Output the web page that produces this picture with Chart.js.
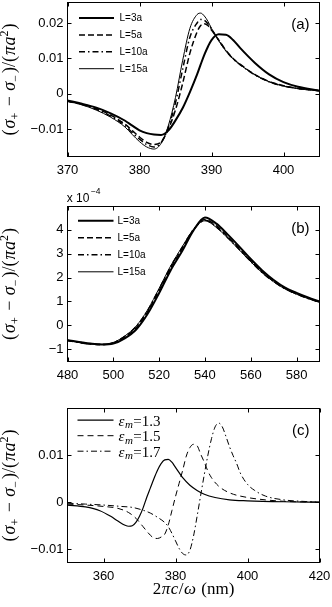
<!DOCTYPE html>
<html><head><meta charset="utf-8">
<script src="https://cdn.jsdelivr.net/npm/chart.js@4/dist/chart.umd.min.js"></script>
<style>
html,body{margin:0;padding:0;background:#fff;width:332px;height:607px;overflow:hidden}
canvas{position:absolute;left:0}
</style></head><body>
<canvas id="ca" width="332" height="185" style="top:0px;width:332px;height:185px"></canvas>
<canvas id="cb" width="332" height="200" style="top:185px;width:332px;height:200px"></canvas>
<canvas id="cc" width="332" height="222" style="top:385px;width:332px;height:222px"></canvas>
<script>
// ---------- Panel (a): wavelength (nm) and (σ+ − σ−)/(πa²) for several L ----------
const xA = [370,372,374,376,378,379,380,381,382,383,384,385,386,387,388,388.5,389,389.5,390,391,392,393,394,396,398,400,402,405];
const aL3  = [-0.0019,-0.0028,-0.0039,-0.0055,-0.0076,-0.0090,-0.0103,-0.0111,-0.0115,-0.0116,-0.0104,-0.0075,-0.0040,0.0005,0.0055,0.0083,0.0110,0.0133,0.0152,0.0168,0.0167,0.0152,0.0129,0.0088,0.0055,0.0033,0.0020,0.0009];
const aL5  = [-0.0020,-0.0029,-0.0042,-0.0060,-0.0086,-0.0104,-0.0122,-0.0137,-0.0143,-0.0136,-0.0100,-0.0045,0.0030,0.0115,0.0175,0.0193,0.0198,0.0193,0.0180,0.0152,0.0123,0.0100,0.0083,0.0055,0.0035,0.0023,0.0015,0.0009];
const aL10 = [-0.0021,-0.0030,-0.0044,-0.0063,-0.0090,-0.0110,-0.0128,-0.0143,-0.0150,-0.0138,-0.0095,-0.0025,0.0070,0.0160,0.0200,0.0210,0.0208,0.0198,0.0183,0.0152,0.0122,0.0099,0.0082,0.0054,0.0034,0.0022,0.0015,0.0009];
const aL15 = [-0.0021,-0.0031,-0.0046,-0.0066,-0.0094,-0.0115,-0.0135,-0.0150,-0.0156,-0.0140,-0.0090,-0.0010,0.0095,0.0185,0.0224,0.0228,0.0220,0.0205,0.0185,0.0150,0.0121,0.0099,0.0082,0.0054,0.0034,0.0022,0.0015,0.0009];
const ticksAX = [370,380,390,400];
const labelsAX = ['370','380','390','400'];
const ticksAY = [-0.01,0,0.01,0.02];
const labelsAY = ['\u22120.01','0','0.01','0.02'];

// ---------- Panel (b): values in units of 1e-4 ----------
const xB = [480,485,490,495,500,505,510,515,520,525,530,535,540,545,550,555,560,565,570,575,580,585,590];
const bL3  = [-0.63,-0.70,-0.77,-0.81,-0.77,-0.55,-0.18,0.48,1.35,2.30,3.10,3.98,4.52,4.26,3.80,3.30,2.78,2.30,1.90,1.58,1.36,1.17,1.00];
const bL5  = [-0.63,-0.71,-0.78,-0.81,-0.75,-0.50,-0.10,0.57,1.46,2.40,3.20,4.00,4.43,4.17,3.71,3.22,2.71,2.24,1.86,1.55,1.32,1.14,0.98];
const bL10 = [-0.64,-0.72,-0.79,-0.81,-0.73,-0.47,-0.05,0.62,1.52,2.45,3.25,4.01,4.40,4.12,3.67,3.18,2.68,2.21,1.83,1.53,1.31,1.12,0.97];
const bL15 = [-0.64,-0.72,-0.79,-0.80,-0.72,-0.45,-0.03,0.65,1.55,2.48,3.28,4.02,4.38,4.10,3.65,3.16,2.66,2.20,1.82,1.52,1.30,1.12,0.96];
const ticksBX = [480,500,520,540,560,580];
const labelsBX = ['480','500','520','540','560','580'];
const ticksBY = [-1,0,1,2,3,4];
const labelsBY = ['\u22121','0','1','2','3','4'];

// ---------- Panel (c): different ε_m ----------
const xC13 = [350,355,359,362,364,366,367,368,369,370,371,372,373,374,375,376,377,378,379,380,381,382,384,386,388,391,395,400,410,420];
const yC13 = [-0.0006,-0.0010,-0.0018,-0.0030,-0.0040,-0.0049,-0.0051,-0.0050,-0.0043,-0.0030,-0.0012,0.0010,0.0030,0.0050,0.0068,0.0082,0.0090,0.0091,0.0085,0.0074,0.0063,0.0052,0.0036,0.0025,0.0017,0.0010,0.0005,0.0003,0.0001,0.0000];
const xC15 = [350,355,360,364,367,369,371,373,374,375,376,377,378,379,380,381,382,383,384,385,386,387,388,389,390,392,395,400,405,410,420];
const yC15 = [-0.0004,-0.0006,-0.0009,-0.0013,-0.0022,-0.0034,-0.0052,-0.0070,-0.0076,-0.0077,-0.0074,-0.0068,-0.0048,-0.0018,0.0012,0.0040,0.0068,0.0098,0.0116,0.0123,0.0120,0.0102,0.0085,0.0066,0.0052,0.0034,0.0020,0.0010,0.0005,0.0002,0.0000];
const xC17 = [350,355,360,365,368,371,373,375,377,378,379,380,381,382,383,384,385,386,387,388,389,390,391,392,393,394,395,396,397,398,400,402,405,410,415,420];
const yC17 = [-0.0002,-0.0004,-0.0006,-0.0009,-0.0011,-0.0017,-0.0023,-0.0032,-0.0043,-0.0052,-0.0066,-0.0082,-0.0098,-0.0109,-0.0112,-0.0102,-0.0072,-0.0030,0.0015,0.0059,0.0100,0.0135,0.0160,0.0168,0.0160,0.0140,0.0118,0.0099,0.0082,0.0062,0.0038,0.0025,0.0013,0.0005,0.0002,0.0000];
const ticksCX = [360,380,400,420];
const labelsCX = ['360','380','400','420'];
const ticksCY = [-0.01,0,0.01];
const labelsCY = ['\u22120.01','0','0.01'];

const legendA = ['L=3a','L=5a','L=10a','L=15a'];
const legendC = ['1.3','1.5','1.7'];

// ---------- helpers ----------
const SANS = '"Liberation Sans", Arial, Helvetica, sans-serif';
const SERIF = '"Liberation Serif", "Times New Roman", serif';
const pts = (xs, ys) => xs.map((x, i) => ({x, y: ys[i]}));

function drawRich(ctx, parts, x, y) {
  for (const p of parts) {
    ctx.font = p.f;
    ctx.fillText(p.t, x, y + (p.dy || 0));
    x += ctx.measureText(p.t).width + (p.sp || 0);
  }
  return x;
}
function richWidth(ctx, parts) {
  let w = 0;
  for (const p of parts) { ctx.font = p.f; w += ctx.measureText(p.t).width + (p.sp || 0); }
  return w;
}
const yTitleParts = [
  {t:'(', f:`18px ${SERIF}`, sp:1},
  {t:'\u03C3', f:`italic 18px ${SERIF}`},
  {t:'+', f:`12px ${SERIF}`, dy:3.5, sp:2},
  {t:' \u2212 ', f:`18px ${SERIF}`, sp:1},
  {t:'\u03C3', f:`italic 18px ${SERIF}`},
  {t:'\u2212', f:`12px ${SERIF}`, dy:3.5, sp:2},
  {t:')/(', f:`18px ${SERIF}`, sp:1},
  {t:'\u03C0', f:`italic 18px ${SERIF}`, sp:0.5},
  {t:'a', f:`italic 18px ${SERIF}`},
  {t:'2', f:`12px ${SERIF}`, dy:-7.5, sp:1},
  {t:')', f:`18px ${SERIF}`}
];
const xTitleParts = [
  {t:'2', f:`17px ${SERIF}`, sp:0.5},
  {t:'\u03C0', f:`italic 17px ${SERIF}`, sp:0.5},
  {t:'c', f:`italic 17px ${SERIF}`, sp:0.5},
  {t:'/', f:`17px ${SERIF}`, sp:0.5},
  {t:'\u03C9', f:`italic 17px ${SERIF}`, sp:1},
  {t:' (nm)', f:`17px ${SERIF}`}
];

const framePlugin = {
  id: 'frame',
  afterDraw(chart, args, o) {
    const ctx = chart.ctx, a = chart.chartArea, xs = chart.scales.x, ys = chart.scales.y;
    ctx.save();
    ctx.strokeStyle = '#000'; ctx.lineWidth = 1; ctx.setLineDash([]);
    ctx.strokeRect(a.left, a.top, a.right - a.left, a.bottom - a.top);
    const tl = 4;
    ctx.beginPath();
    for (const v of o.xt) {
      const p = Math.round(xs.getPixelForValue(v)) + 0.5;
      ctx.moveTo(p, a.bottom); ctx.lineTo(p, a.bottom - tl);
      ctx.moveTo(p, a.top); ctx.lineTo(p, a.top + tl);
    }
    for (const v of o.yt) {
      const p = Math.round(ys.getPixelForValue(v)) + 0.5;
      ctx.moveTo(a.left, p); ctx.lineTo(a.left + tl, p);
      ctx.moveTo(a.right, p); ctx.lineTo(a.right - tl, p);
    }
    ctx.stroke();
    // legend
    chart.data.datasets.forEach((ds, i) => {
      const y = a.top + o.lg.y0 + i * o.lg.dy;
      ctx.beginPath();
      ctx.lineWidth = ds.borderWidth;
      ctx.setLineDash(ds.borderDash || []);
      ctx.moveTo(a.left + o.lg.x0, y); ctx.lineTo(a.left + o.lg.x1, y);
      ctx.stroke();
      ctx.setLineDash([]);
      ctx.fillStyle = '#000';
      if (o.lg.rich) {
        ctx.textAlign = 'left'; ctx.textBaseline = 'alphabetic';
        drawRich(ctx, [
          {t:'\u03B5', f:`italic 15px ${SERIF}`, sp:0.5},
          {t:'m', f:`italic 11px ${SERIF}`, dy:2.5, sp:0.5},
          {t:'=' + ds.label, f:`15px ${SERIF}`}
        ], a.left + o.lg.tx, y + 5.5);
      } else {
        ctx.font = `10px ${SANS}`;
        ctx.textAlign = 'left'; ctx.textBaseline = 'middle';
        ctx.fillText(ds.label, a.left + o.lg.tx, y + 0.5);
      }
    });
    // panel label
    ctx.fillStyle = '#000';
    ctx.font = `15px ${SANS}`;
    ctx.textAlign = 'right'; ctx.textBaseline = 'alphabetic';
    ctx.fillText(o.panel, a.right - 10, a.top + o.panelY);
    // y title
    ctx.save();
    ctx.textAlign = 'left'; ctx.textBaseline = 'alphabetic';
    const w = richWidth(ctx, yTitleParts);
    ctx.translate(15, (a.top + a.bottom) / 2);
    ctx.rotate(-Math.PI / 2);
    drawRich(ctx, yTitleParts, -w / 2, 0);
    ctx.restore();
    // x title
    if (o.xtitle) {
      ctx.textAlign = 'left'; ctx.textBaseline = 'alphabetic';
      const wx = richWidth(ctx, xTitleParts);
      drawRich(ctx, xTitleParts, (a.left + a.right) / 2 - wx / 2, a.bottom + o.xtitle);
    }
    // exponent
    if (o.expo) {
      ctx.textAlign = 'left'; ctx.textBaseline = 'alphabetic';
      ctx.font = `12px ${SANS}`;
      ctx.fillText('x 10', 66.7, a.top - 5);
      const wx = ctx.measureText('x 10').width;
      ctx.font = `8.5px ${SANS}`;
      ctx.fillText('\u22124', 66.7 + wx + 1.5, a.top - 12.5);
    }
    ctx.restore();
  }
};

function makeChart(id, H, top, bottom, xr, yr, xt, xl, yt, yl, datasets, extra) {
  const left = 67.5, right = 319.5;
  return new Chart(document.getElementById(id), {
    type: 'line',
    data: { datasets },
    options: {
      responsive: false, animation: false, events: [],
      layout: { padding: { left: 0, right: 332 - right, top: top, bottom: 0 } },
      elements: { point: { radius: 0 }, line: { cubicInterpolationMode: 'monotone', borderCapStyle: 'butt' } },
      plugins: { legend: { display: false }, tooltip: { enabled: false }, frame: extra },
      scales: {
        x: {
          type: 'linear', min: xr[0], max: xr[1],
          grid: { display: false, drawTicks: false }, border: { display: false },
          afterBuildTicks: s => { s.ticks = xt.map(v => ({ value: v })); },
          afterFit: s => { s.height = H - bottom; s.paddingLeft = 0; s.paddingRight = 0; },
          ticks: { autoSkip: false, maxRotation: 0, padding: 6, color: '#000',
                   font: { family: SANS, size: 13 }, callback: (v, i) => xl[i] }
        },
        y: {
          type: 'linear', min: yr[0], max: yr[1],
          grid: { display: false, drawTicks: false }, border: { display: false },
          afterBuildTicks: s => { s.ticks = yt.map(v => ({ value: v })); },
          afterFit: s => { s.width = left; s.paddingTop = 0; s.paddingBottom = 0; },
          ticks: { autoSkip: false, padding: 4, color: '#000',
                   font: { family: SANS, size: 13 }, callback: (v, i) => yl[i] }
        }
      }
    },
    plugins: [framePlugin]
  });
}

const styleL = [
  { borderWidth: 2, borderDash: [] },
  { borderWidth: 1.5, borderDash: [6, 3] },
  { borderWidth: 1.5, borderDash: [6, 3, 1.5, 3] },
  { borderWidth: 1, borderDash: [] }
];
const styleC = [
  { borderWidth: 1.2, borderDash: [] },
  { borderWidth: 1, borderDash: [6, 4] },
  { borderWidth: 1, borderDash: [6, 3, 1.5, 3] }
];
const mk = (label, data, st) => Object.assign({ label, data, borderColor: '#000', backgroundColor: '#000', fill: false }, st);

makeChart('ca', 185, 2.5, 156.5, [370, 405], [-0.0177, 0.0258], ticksAX, labelsAX, ticksAY, labelsAY,
  [aL3, aL5, aL10, aL15].map((ys, i) => mk(legendA[i], pts(xA, ys), styleL[i])),
  { xt: ticksAX, yt: ticksAY, panel: '(a)', panelY: 26, lg: { x0: 11.5, x1: 46.5, tx: 52, y0: 15.5, dy: 16.9 } });

makeChart('cb', 200, 21.5, 176.5, [480, 590], [-1.52, 4.98], ticksBX, labelsBX, ticksBY, labelsBY,
  [bL3, bL5, bL10, bL15].map((ys, i) => mk(legendA[i], pts(xB, ys), styleL[i])),
  { xt: ticksBX, yt: ticksBY, panel: '(b)', panelY: 26.5, expo: true, lg: { x0: 10.5, x1: 46, tx: 50, y0: 14.3, dy: 17 } });

makeChart('cc', 222, 23.5, 177.5, [350, 420], [-0.0128, 0.0199], ticksCX, labelsCX, ticksCY, labelsCY,
  [[xC13, yC13], [xC15, yC15], [xC17, yC17]].map((d, i) => mk(legendC[i], pts(d[0], d[1]), styleC[i])),
  { xt: ticksCX, yt: ticksCY, panel: '(c)', panelY: 26.5, xtitle: 31.5, lg: { x0: 10, x1: 46, tx: 51, y0: 11.7, dy: 15.5, rich: true } });
</script>
</body></html>
